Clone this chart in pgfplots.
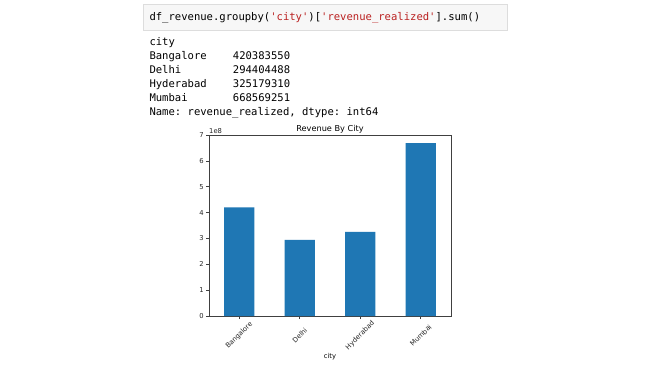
\documentclass[border=0pt]{standalone}
\usepackage{pgfplots}
\pgfplotsset{compat=1.18}
\usepackage{fontspec}
\setmainfont{DejaVu Sans}
\setmonofont{DejaVu Sans Mono}
\definecolor{mplblue}{HTML}{1F77B4}
\definecolor{strred}{HTML}{BA2121}
\definecolor{cellbg}{HTML}{F7F7F7}
\definecolor{cellborder}{HTML}{DDDDDD}
\newcommand\codesize{\fontsize{10.6}{12}\selectfont}
\begin{document}
\begin{tikzpicture}
\path[use as bounding box, fill=white] (0,0) rectangle (650bp,-366bp);
\filldraw[fill=cellbg, draw=cellborder, line width=0.8bp] (143.5bp,-4bp) rectangle (507.5bp,-30bp);
\node[anchor=base west, inner sep=0pt, font=\ttfamily\codesize] at (149.3bp,-20bp)
  {df\_revenue.groupby(\textcolor{strred}{'city'})[\textcolor{strred}{'revenue\_realized'}].sum()};
\begin{scope}[every node/.style={anchor=base west, inner sep=0pt, font=\ttfamily\codesize}]
\node at (149.3bp,-45.7bp) {city};
\node at (149.3bp,-59.6bp) {Bangalore};
\node at (149.3bp,-73.5bp) {Delhi};
\node at (149.3bp,-87.4bp) {Hyderabad};
\node at (149.3bp,-101.3bp) {Mumbai};
\node at (149.3bp,-115.2bp) {Name: revenue\_realized, dtype: int64};
\node at (232.7bp,-59.6bp) {420383550};
\node at (232.7bp,-73.5bp) {294404488};
\node at (232.7bp,-87.4bp) {325179310};
\node at (232.7bp,-101.3bp) {668569251};
\end{scope}
\begin{axis}[
  at={(209bp,-316bp)}, anchor=south west,
  scale only axis, width=242bp, height=181bp,
  xmin=-0.5, xmax=3.5, ymin=0, ymax=7e8,
  ytick={0,1e8,2e8,3e8,4e8,5e8,6e8,7e8},
  scaled y ticks=base 10:-8,
  ytick scale label code/.code={1e8},
  every y tick scale label/.style={at={(rel axis cs:0,1)}, anchor=base west, inner sep=0pt, yshift=2bp, font=\fontsize{6.8}{7}\selectfont},
  xtick={0,1,2,3}, xticklabels={Bangalore,Delhi,Hyderabad,Mumbai},
  xticklabel style={rotate=45, anchor=center, inner sep=0pt},
  xticklabel shift=16.5bp,
  yticklabel style={anchor=east, inner sep=0pt},
  yticklabel shift=2bp,
  tick align=outside, tick pos=left, major tick length=3bp,
  axis line style={black!75, line width=0.6bp}, tick style={black!75, line width=0.6bp},
  ticklabel style={font=\fontsize{6.8}{7}\selectfont, text=black!85},
  /pgf/number format/assume math mode=true,
  title={Revenue By City},
  every axis title/.style={at={(rel axis cs:0.5,1)}, anchor=base, yshift=3.5bp, inner sep=0pt, font=\fontsize{8.2}{9}\selectfont},
  xlabel={city},
  every axis x label/.style={at={(rel axis cs:0.5,0)}, anchor=base, yshift=-42.5bp, inner sep=0pt, font=\fontsize{6.8}{7}\selectfont},
  ybar, bar width=0.5,
]
\addplot[fill=mplblue, draw=none] coordinates {(0,420383550) (1,294404488) (2,325179310) (3,668569251)};
\end{axis}
\end{tikzpicture}
\end{document}
